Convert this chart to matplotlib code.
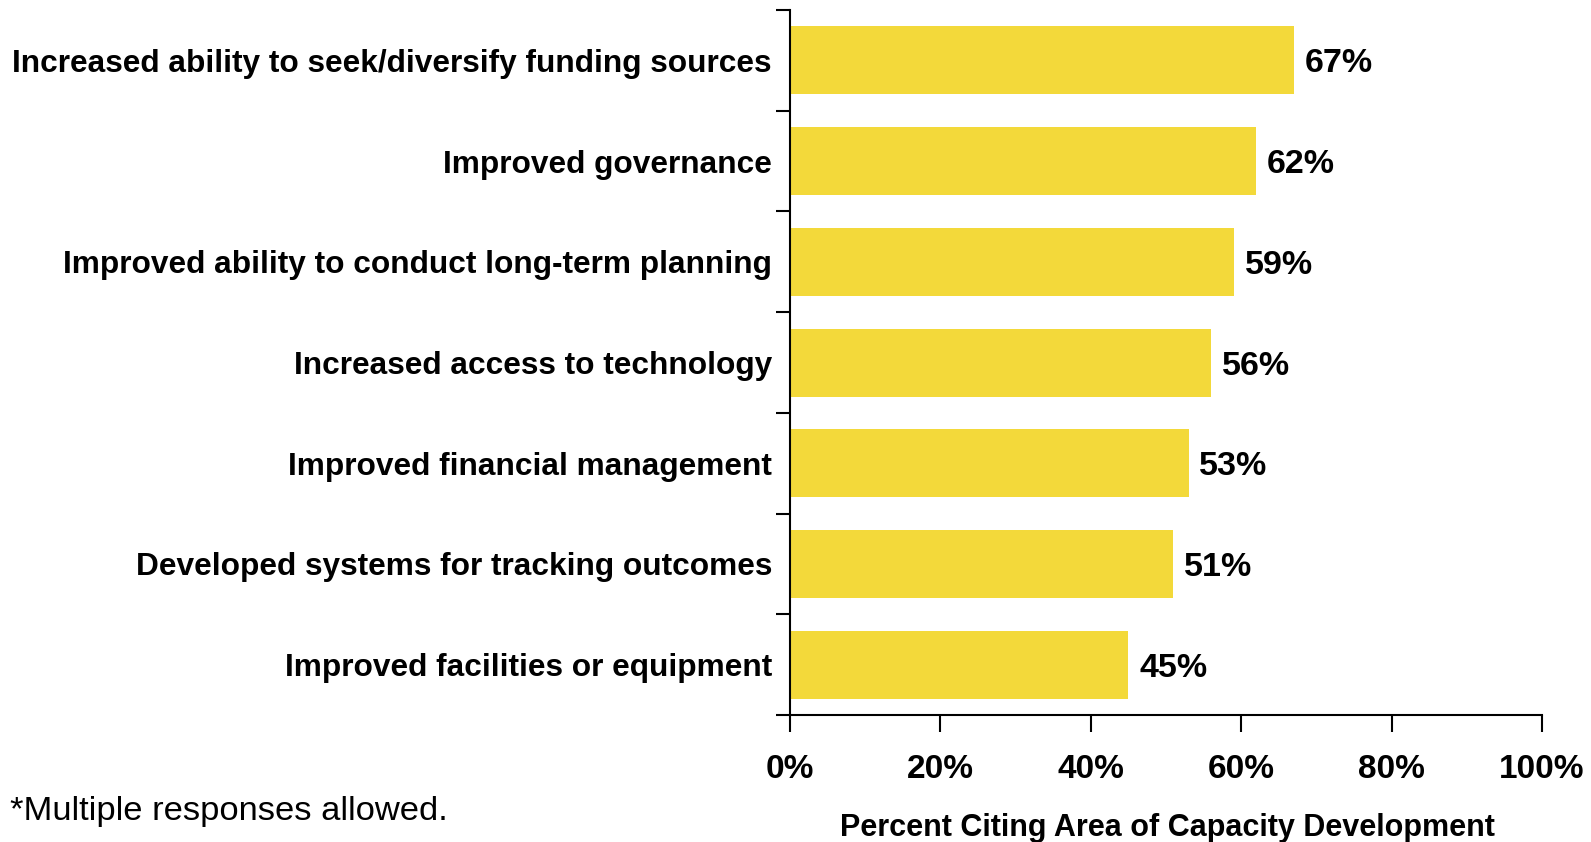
import numpy as np
import matplotlib.pyplot as plt
from matplotlib.ticker import FixedLocator

# --- podatki ---
categories = [
    "Increased ability to seek/diversify funding sources",
    "Improved governance",
    "Improved ability to conduct long-term planning",
    "Increased access to technology",
    "Improved financial management",
    "Developed systems for tracking outcomes",
    "Improved facilities or equipment",
]
values = [67, 62, 59, 56, 53, 51, 45]
x_ticks = [0, 20, 40, 60, 80, 100]
x_tick_labels = ["0%", "20%", "40%", "60%", "80%", "100%"]

BAR_COLOR = "#F3D93A"
plt.rcParams["font.family"] = ["Liberation Sans", "DejaVu Sans"]

fig = plt.figure(figsize=(15.91, 8.42), dpi=100)
ax = fig.add_axes([0.4965, 0.1508, 0.4727, 0.8373])

n = len(categories)
y = np.arange(n)[::-1]
ax.barh(y, values, height=0.675, color=BAR_COLOR, zorder=2)

for yi, v in zip(y, values):
    ax.text(v + 1.45, yi, f"{v}%", va="center_baseline", ha="left",
            fontsize=24.5, fontweight="bold")

ax.set_xlim(0, 100)
ax.set_ylim(-0.5, n - 0.5)

ax.set_xticks(x_ticks)
ax.set_xticklabels(x_tick_labels, fontsize=24, fontweight="bold")
ax.tick_params(axis="x", direction="out", length=12, width=1.5, pad=16)

# kategorije kot oznake, tick črte na mejah
ax.set_yticks(y)
ax.set_yticklabels(categories, fontsize=22.8, fontweight="bold")
ax.tick_params(axis="y", which="major", length=0, pad=13)
ax.yaxis.set_minor_locator(FixedLocator(np.arange(-0.5, n, 1.0)))
ax.tick_params(axis="y", which="minor", direction="out", length=10, width=1.5)

for s in ["top", "right"]:
    ax.spines[s].set_visible(False)
for s in ["left", "bottom"]:
    ax.spines[s].set_linewidth(1.5)

fig.text(0.7335, 0.017, "Percent Citing Area of Capacity Development",
         ha="center", va="center", fontsize=22, fontweight="bold")
fig.text(0.006, 0.036, "*Multiple responses allowed.", ha="left", va="center",
         fontsize=24.8)

plt.savefig("out.png", dpi=100)
